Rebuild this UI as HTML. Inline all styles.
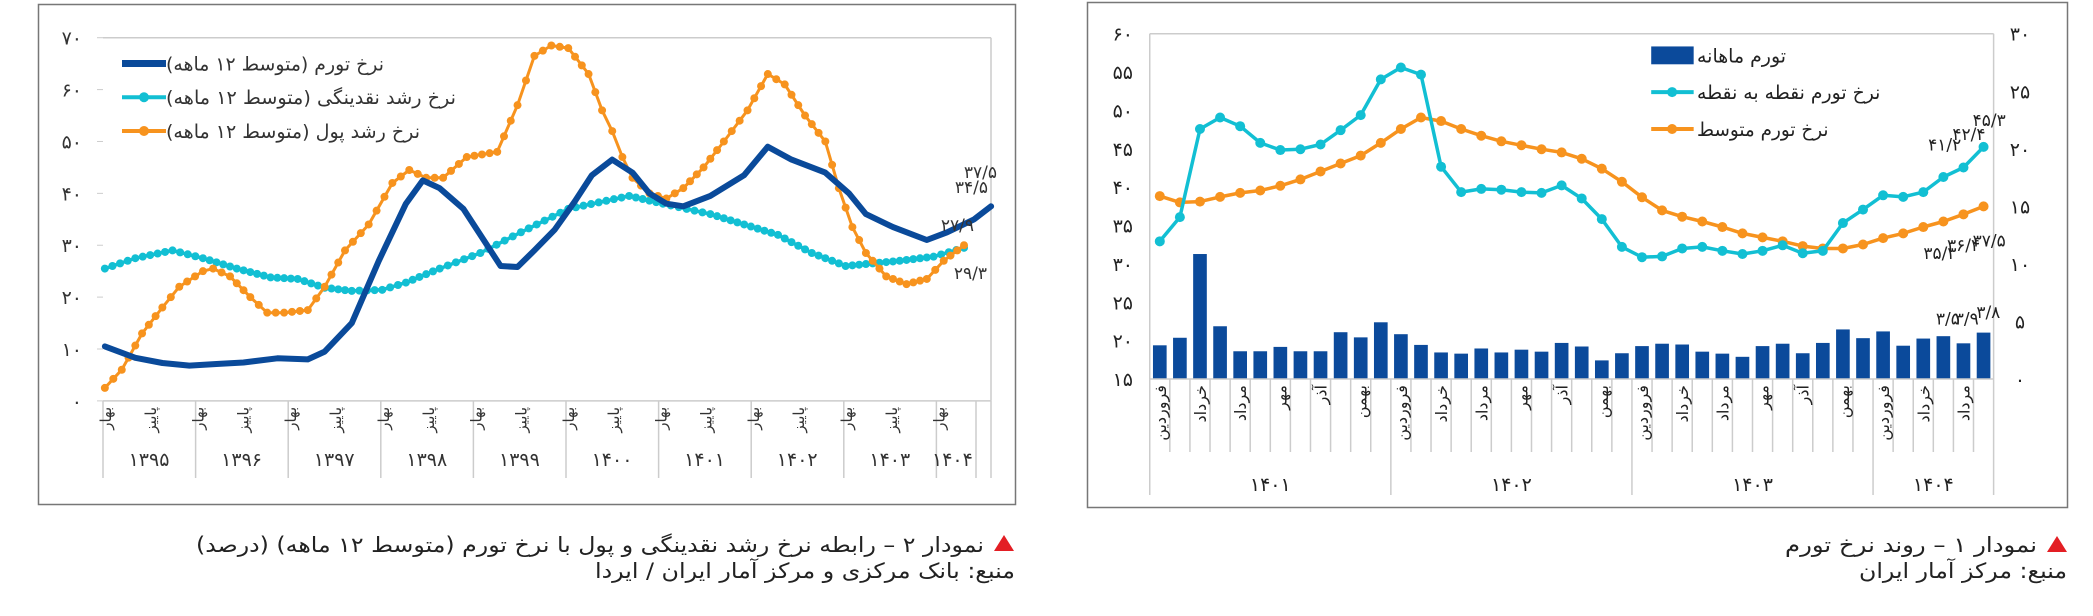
<!DOCTYPE html>
<html><head><meta charset="utf-8">
<style>
html,body{margin:0;padding:0;background:#fff;width:2093px;height:616px;overflow:hidden}
svg{display:block}
text{font-family:"DejaVu Sans","Liberation Sans",sans-serif}
</style></head>
<body>
<svg id="s" width="2093" height="616" xmlns="http://www.w3.org/2000/svg"></svg>
<script>
var S=document.getElementById('s');var NS='http://www.w3.org/2000/svg';
function el(t,a,txt){var e=document.createElementNS(NS,t);for(var k in a)e.setAttribute(k,a[k]);if(txt!==undefined)e.textContent=txt;S.appendChild(e);return e;}
var fy=616/1552;
function LX(z){return z*0.6765;} function LY(z){return z*fy;}
function RX(z){return 1050+z*0.674;} function RY(z){return z*fy;}
function fa(n){return String(n).replace(/[0-9]/g,function(d){return '۰۱۲۳۴۵۶۷۸۹'[d];}).replace('.','/');}
function poly(pts,fx,fyy,col,w){var d=pts.map(function(p){return fx(p[0]).toFixed(1)+','+fyy(p[1]).toFixed(1)}).join(' ');el('polyline',{points:d,fill:'none',stroke:col,'stroke-width':w,'stroke-linejoin':'round','stroke-linecap':'round'});}
function dots(pts,fx,fyy,col,r){pts.forEach(function(p){el('circle',{cx:fx(p[0]),cy:fyy(p[1]),r:r,fill:col});});}
function interp(pts,step){var o=[];for(var i=0;i<pts.length-1;i++){var a=pts[i],b=pts[i+1];var n=Math.max(1,Math.round((b[0]-a[0])/step));for(var j=0;j<n;j++){var t=j/n;o.push([a[0]+(b[0]-a[0])*t,a[1]+(b[1]-a[1])*t]);}}o.push(pts[pts.length-1]);return o;}

/* ---------- LEFT CHART ---------- */
el('rect',{x:38.5,y:4.5,width:977,height:500,fill:'none',stroke:'#777','stroke-width':1.5});
var lx0=103,lx1=991,ly0=LY(95),lyb=LY(1010);
function lv(v){return 1010-v*(1010-95)/70;}
el('line',{x1:lx0,y1:ly0,x2:lx1,y2:ly0,stroke:'#ccc','stroke-width':1.5});
el('line',{x1:lx1,y1:ly0,x2:lx1,y2:lyb,stroke:'#ccc','stroke-width':1.5});
el('line',{x1:lx0,y1:lyb,x2:lx1,y2:lyb,stroke:'#ccc','stroke-width':1.5});
for(var v=0;v<=70;v+=10){var y=LY(lv(v));el('text',{x:82,y:y+7,'text-anchor':'end','font-size':19,fill:'#333'},fa(v));el('line',{x1:97,y1:y,x2:lx0,y2:y,stroke:'#ccc'});}
var yrs=['1395','1396','1397','1398','1399','1400','1401','1402','1403','1404'];
for(var i=0;i<10;i++){var x=lx0+i*92.6;el('line',{x1:x,y1:lyb,x2:x,y2:478,stroke:'#ccc','stroke-width':1.5});
 var tx=(i<9?x+46:x+16);el('text',{x:tx,y:466,'text-anchor':'middle','font-size':19,fill:'#333'},fa(yrs[i]));
 el('text',{x:0,y:0,'text-anchor':'end','font-size':15,fill:'#333',transform:'translate('+(x+8)+','+(lyb+6)+') rotate(-90)'},'بهار');
 if(i<9)el('text',{x:0,y:0,'text-anchor':'end','font-size':15,fill:'#333',transform:'translate('+(x+53)+','+(lyb+6)+') rotate(-90)'},'پاییز');}
el('line',{x1:976,y1:lyb,x2:976,y2:478,stroke:'#ccc','stroke-width':1.5});
el('line',{x1:lx1,y1:lyb,x2:lx1,y2:478,stroke:'#ccc','stroke-width':1.5});

var infl=[[155,10.5],[200,8.3],[240,7.3],[280,6.8],[320,7.1],[360,7.4],[410,8.2],[455,8.0],[480,9.5],[520,15],[560,27],[600,38],[625,42.5],[650,41],[685,37],[715,31],[740,26],[765,25.8],[790,29],[820,33],[850,38.5],[875,43.5],[905,46.5],[935,44],[960,40],[985,38],[1010,37.5],[1050,39.5],[1100,43.5],[1135,49],[1170,46.5],[1220,44],[1255,40],[1280,36],[1320,33.5],[1370,31],[1400,32.5],[1440,35],[1465,37.5]];
var liq=[[155,25.5],[200,27.5],[255,29],[300,27.5],[350,25.5],[400,23.8],[440,23.5],[480,21.8],[520,21.2],[565,21.4],[600,22.8],[650,25.5],[710,28.5],[770,32.5],[840,37],[930,39.5],[980,38],[1050,36],[1100,34],[1150,32],[1200,28.5],[1250,26],[1290,26.5],[1330,27],[1380,27.8],[1425,29.5]];
var mon=[[155,2.5],[180,6],[210,13],[240,18],[265,22],[300,25],[315,25.5],[340,24],[370,20],[395,17],[420,17],[455,17.5],[480,22],[510,29],[545,34],[580,42],[605,44.5],[630,43],[655,43],[690,47],[735,48],[765,57],[790,66.5],[815,68.5],[840,68],[870,63],[890,56],[905,52],[920,47],[935,43],[960,40],[985,39],[1010,41],[1040,45],[1070,50],[1105,56],[1135,63],[1160,61],[1190,55],[1220,50],[1240,41],[1260,33.5],[1280,28.5],[1310,24],[1340,22.5],[1370,23.5],[1395,27],[1425,30]];
function lpts(a){return a.map(function(p){return [p[0],lv(p[1])];});}
var L=lpts(liq);poly(L,LX,LY,'#12bfd3',3.5);dots(interp(L,11),LX,LY,'#12bfd3',4);
var M=lpts(mon);poly(M,LX,LY,'#f7931e',3);dots(interp(M,11),LX,LY,'#f7931e',4);
poly(lpts(infl),LX,LY,'#0a4a9a',6);
var lg=[[160,'#0a4a9a','نرخ تورم (متوسط ۱۲ ماهه)',218],[245,'#12bfd3','نرخ رشد نقدینگی (متوسط ۱۲ ماهه)',290],[330,'#f7931e','نرخ رشد پول (متوسط ۱۲ ماهه)',254]];
lg.forEach(function(g,i){var y=LY(g[0]);el('line',{x1:122,y1:y,x2:166,y2:y,stroke:g[1],'stroke-width':i==0?7:4});if(i>0)el('circle',{cx:144,cy:y,r:5,fill:g[1]});el('text',{x:166+g[3],y:y+7,'font-size':19,fill:'#333','text-anchor':'end',textLength:g[3],lengthAdjust:'spacingAndGlyphs'},g[2]);});
[['۳۷/۵',997,178],['۳۴/۵',988,193],['۲۷/۹',974,231],['۲۹/۳',987,279]].forEach(function(a){el('text',{x:a[1],y:a[2],'text-anchor':'end','font-size':17,fill:'#333'},a[0]);});
el('path',{d:'M994,551 L1004,535 L1014,551 Z',fill:'#e31e24'});
el('text',{x:984,y:552,'text-anchor':'end','font-size':21,fill:'#222',textLength:788,lengthAdjust:'spacingAndGlyphs'},'نمودار ۲ – رابطه نرخ رشد نقدینگی و پول با نرخ تورم (متوسط ۱۲ ماهه) (درصد)');
el('text',{x:1015,y:578,'text-anchor':'end','font-size':21,fill:'#222',textLength:420,lengthAdjust:'spacingAndGlyphs'},'منبع: بانک مرکزی و مرکز آمار ایران / ایردا');

/* ---------- RIGHT CHART ---------- */
el('rect',{x:1087.5,y:2.5,width:980,height:505,fill:'none',stroke:'#777','stroke-width':1.5});
var rx0=RX(148),rx1=RX(1400),rt=RY(85),rb=RY(955);
el('line',{x1:rx0,y1:rt,x2:rx1,y2:rt,stroke:'#ccc','stroke-width':1.5});
el('line',{x1:rx1,y1:rt,x2:rx1,y2:rb,stroke:'#ccc','stroke-width':1.5});
el('line',{x1:rx0,y1:rt,x2:rx0,y2:rb,stroke:'#ccc','stroke-width':1.5});
for(var i=0;i<=9;i++){var y=rt+(rb-rt)*i/9;el('text',{x:1133,y:y+7,'text-anchor':'end','font-size':19,fill:'#222'},fa(60-5*i));}
for(var i=0;i<=6;i++){var y=rt+(rb-rt)*i/6;el('text',{x:2020,y:y+7,'text-anchor':'middle','font-size':19,fill:'#222'},fa(30-5*i));}
var bw=(rx1-rx0)/42;
var bars=[870,851,640,822,885,885,874,885,885,837,850,812,842,869,888,891,878,888,881,886,864,873,908,890,872,866,868,886,891,899,872,866,890,864,830,852,835,871,853,847,865,838];
bars.forEach(function(t,i){var cx=rx0+bw*(i+0.5);el('rect',{x:cx-bw*0.34,y:RY(t),width:bw*0.68,height:rb-RY(t),fill:'#0b4a9b'});});
el('line',{x1:rx0,y1:rb,x2:rx1,y2:rb,stroke:'#ccc','stroke-width':1.5});
for(var i=0;i<=42;i++){var x=rx0+bw*i;var yr=(i%12==0||i==42);el('line',{x1:x,y1:rb,x2:x,y2:yr?495:452,stroke:'#ccc','stroke-width':1.5});}
var mn=['فروردین','خرداد','مرداد','مهر','آذر','بهمن'];
for(var i=0;i<42;i+=2){var x=rx0+bw*(i+0.5)+6;el('text',{x:0,y:0,'text-anchor':'end','font-size':16,fill:'#222',transform:'translate('+x+','+(rb+6)+') rotate(-90)'},mn[(i%12)/2]);}
[['1401',6],['1402',18],['1403',30],['1404',39]].forEach(function(a){el('text',{x:rx0+bw*a[1],y:491,'text-anchor':'middle','font-size':19,fill:'#222'},fa(a[0]));});
var cy=[608,547,325,296,318,360,378,376,364,328,290,200,170,188,420,484,476,478,484,486,467,500,552,622,648,646,626,622,632,640,632,618,638,632,562,528,492,496,484,446,422,370];
var oy=[494,510,508,496,486,480,468,452,432,412,392,360,325,296,305,325,342,356,366,376,384,400,425,458,497,530,546,558,572,588,598,608,620,626,626,616,600,588,572,558,540,520];
function rser(a){return a.map(function(y,i){return [rx0+bw*(i+0.5),RY(y)];});}
function id(v){return v;}
var O=rser(oy);poly(O,id,id,'#f7931e',3.5);dots(O,id,id,'#f7931e',5);
var C=rser(cy);poly(C,id,id,'#12bfd3',3.5);dots(C,id,id,'#12bfd3',5);
el('rect',{x:RX(892),y:RY(117),width:RX(955)-RX(892),height:RY(162)-RY(117),fill:'#0b4a9b'});
el('text',{x:RX(1092),y:RY(140)+7,'text-anchor':'end','font-size':19,fill:'#222',textLength:RX(1092)-RX(960),lengthAdjust:'spacingAndGlyphs'},'تورم ماهانه');
[[232,'#12bfd3','نرخ تورم نقطه به نقطه',1232],[325,'#f7931e','نرخ تورم متوسط',1155]].forEach(function(g){var y=RY(g[0]);el('line',{x1:RX(892),y1:y,x2:RX(955),y2:y,stroke:g[1],'stroke-width':4});el('circle',{cx:RX(923),cy:y,r:5,fill:g[1]});el('text',{x:RX(g[3]),y:y+7,'text-anchor':'end','font-size':19,fill:'#222',textLength:RX(g[3])-RX(960),lengthAdjust:'spacingAndGlyphs'},g[2]);});
[['۴۵/۳',1418,300],['۴۲/۴',1388,335],['۴۱/۲',1352,362],['۳۷/۵',1418,603],['۳۶/۴',1380,615],['۳۵/۳',1345,635],['۳/۸',1410,783],['۳/۹',1378,800],['۳/۵',1350,800]].forEach(function(a){el('text',{x:RX(a[1]),y:RY(a[2])+7,'text-anchor':'end','font-size':17,fill:'#222'},a[0]);});
el('path',{d:'M2047,552 L2057,536 L2067,552 Z',fill:'#e31e24'});
el('text',{x:2037,y:552,'text-anchor':'end','font-size':21,fill:'#222',textLength:252,lengthAdjust:'spacingAndGlyphs'},'نمودار ۱ – روند نرخ تورم');
el('text',{x:2067,y:578,'text-anchor':'end','font-size':21,fill:'#222',textLength:208,lengthAdjust:'spacingAndGlyphs'},'منبع: مرکز آمار ایران');
</script>
</body></html>
